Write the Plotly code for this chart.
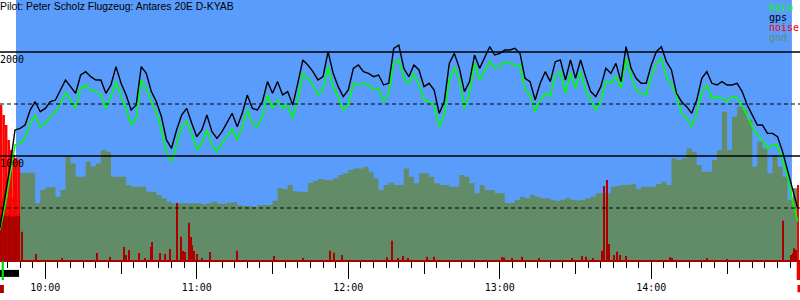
import plotly.graph_objects as go

# ---------------- data ----------------
# fix times: minutes since midnight, one fix every 2 minutes from 09:42
minutes = list(range(582, 900, 2))

gps_alt = [305, 593, 897, 1250, 1266, 1298, 1442, 1522, 1426, 1458, 1522, 1538, 1635, 1731, 1667, 1603,
           1779, 1811, 1763, 1731, 1731, 1603, 1683, 1859, 1699, 1587, 1442, 1490, 1859, 1795, 1619, 1522,
           1378, 1154, 1074, 1250, 1394, 1458, 1314, 1186, 1250, 1394, 1234, 1170, 1234, 1330, 1410, 1282,
           1410, 1587, 1458, 1442, 1522, 1715, 1603, 1715, 1587, 1619, 1490, 1699, 1923, 1875, 1811, 1731,
           1763, 2003, 1795, 1667, 1571, 1635, 1843, 1875, 1811, 1795, 1763, 1779, 1683, 1699, 2035, 2067,
           1843, 1763, 1875, 1827, 1667, 1699, 1635, 1410, 1522, 1891, 1987, 1843, 1619, 1715, 1971, 1843,
           1955, 2051, 1971, 1987, 2019, 2019, 2035, 1987, 1747, 1715, 1538, 1699, 1811, 1715, 1907, 1923,
           1731, 1923, 1747, 1923, 1763, 1619, 1571, 1667, 1843, 1795, 1891, 1715, 2051, 1843, 1747,
           1699, 1699, 1875, 2003, 2051, 1907, 1827, 1603, 1522, 1474, 1410, 1538, 1747, 1811, 1699, 1683,
           1715, 1683, 1683, 1699, 1619, 1490, 1394, 1298, 1298, 1218, 1218, 1186, 1042, 865, 673, 497]

baro_alt = [288, 513, 801, 1106, 1122, 1170, 1314, 1394, 1282, 1314, 1378, 1426, 1506, 1603, 1538, 1458,
            1651, 1683, 1635, 1619, 1587, 1458, 1571, 1715, 1571, 1458, 1298, 1362, 1731, 1651, 1522, 1426,
            1250, 1026, 946, 1122, 1282, 1330, 1218, 1058, 1122, 1250, 1106, 1042, 1122, 1186, 1266, 1154,
            1282, 1442, 1314, 1282, 1378, 1587, 1458, 1538, 1458, 1490, 1362, 1538, 1795, 1747, 1683, 1587,
            1635, 1859, 1667, 1571, 1442, 1490, 1699, 1683, 1699, 1683, 1635, 1651, 1522, 1603, 1891, 1923,
            1747, 1699, 1795, 1683, 1538, 1522, 1490, 1282, 1394, 1731, 1859, 1731, 1458, 1603, 1891, 1731,
            1811, 1907, 1843, 1859, 1907, 1891, 1875, 1875, 1635, 1587, 1426, 1538, 1603, 1571, 1779, 1811,
            1603, 1795, 1651, 1811, 1635, 1538, 1442, 1522, 1715, 1699, 1763, 1651, 1939, 1763, 1635,
            1603, 1587, 1763, 1891, 1939, 1763, 1683, 1587, 1410, 1362, 1282, 1410, 1619, 1683, 1554, 1571,
            1554, 1522, 1571, 1554, 1490, 1378, 1282, 1202, 1154, 1074, 1106, 1106, 962, 801, 561, 369]

gnd_alt = [600, 600, 600, 600, 840, 840, 840, 545, 673, 699, 699, 609, 673, 1000, 929, 801,
           801, 945, 900, 929, 1058, 1040, 801, 801, 800, 721, 705, 705, 705, 657, 657, 625,
           593, 561, 545, 545, 545, 545, 545, 545, 535, 545, 560, 540, 540, 550, 555, 525,
           520, 520, 510, 530, 530, 530, 570, 690, 680, 720, 660, 657, 657, 740, 760, 780,
           769, 769, 785, 817, 833, 865, 881, 881, 897, 849, 785, 673, 721, 743, 721, 721,
           881, 801, 737, 833, 833, 801, 737, 721, 721, 705, 705, 817, 801, 737, 641, 721,
           673, 673, 641, 641, 551, 551, 577, 609, 593, 625, 609, 593, 593, 580, 570, 580,
           593, 580, 575, 580, 593, 609, 641, 641, 641, 705, 712, 721, 721, 731, 680,
           705, 705, 705, 731, 753, 721, 978, 962, 978, 1074, 1042, 913, 849, 849, 962, 1058,
           1426, 1058, 1378, 1474, 1442, 1346, 897, 1138, 1074, 833, 1010, 897, 801, 577, 689, 689]

# noise (sensor units, drawn on the altitude scale)
noise_t = [590.65, 596.3, 606.8, 620.5, 625.6, 631.2, 632.0, 633.0, 637.1, 639.5, 641.9, 642.4, 645.4,
           647.6, 649.4, 652.0, 653.6, 654.5, 655.3, 657.0, 657.6, 658.3, 658.9, 660.1, 662.1, 665.2,
           675.8, 690.6, 702.0, 712.8, 714.3, 717.6, 735.2, 737.4, 739.8, 741.5, 743.8, 751.3, 754.1,
           780.9, 781.7, 784.7, 788.7, 795.6, 808.5, 812.7, 814.1, 817.0, 820.6, 821.4, 822.6, 823.4,
           825.3, 826.5, 827.6, 829.9, 847.4, 848.1, 862.2, 870.1, 892.0, 895.2, 896.0, 896.6, 897.3]
noise_v = [272, 58, 19, 67, 29, 125, 48, 96, 67, 19, 125, 173, 67,
           58, 106, 548, 224, 87, 77, 359, 221, 144, 87, 58, 19, 77,
           90, 38, 16, 90, 70, 48, 26, 186, 16, 38, 10, 32, 32,
           26, 24, 16, 32, 16, 10, 38, 32, 16, 90, 712, 769, 154,
           48, 80, 48, 38, 26, 19, 16, 7, 378, 48, 64, 112, 96]

# engine-run noise (loud part) and its base level
engine_t = [582.5, 583.5, 584.5, 585.5, 586.5, 587.5, 588.5, 589.5, 898.2]
engine_w = [1, 1, 1, 1, 1, 1, 1, 1, 0.5]
engine_v = [1490, 1394, 1298, 1154, 1058, 1010, 981, 962, 721]
engine_base_v = [430, 425, 420, 425, 420, 418, 420, 425]

flight_start, flight_end = 588.4, 895.7
motor_run = (582.06, 589.6)
release_t = (582.7, 583.6)
landing_mark = (897.6, 899.0)

solid_levels = [1000, 2000]
dashed_levels = [500, 1500]
label_levels = [2000, 1000]

hour_ticks = [600, 660, 720, 780, 840]
hour_labels = ["10:00", "11:00", "12:00", "13:00", "14:00"]

x_range = [582.06, 898.9]

title_text = "Pilot: Peter Scholz Flugzeug: Antares 20E D-KYAB"
legend_items = [("baro", "#00ff00"), ("gps", "#000000"), ("noise", "#ff0000"), ("gnd", "#628c68")]

# ---------------- colours ----------------
SKY = "#5a9cfc"
GND = "#628c68"
DARKRED = "#aa0000"
MONO = "DejaVu Sans Mono"

fig = go.Figure()

# ground area on the base x axis (drawn lowest)
fig.add_trace(go.Scatter(x=minutes, y=gnd_alt, mode="lines", line=dict(shape="hv", width=0, color=GND),
                         fill="tozeroy", fillcolor=GND, hoverinfo="skip"))
# noise bars and altitude lines on the overlaying axis (drawn above the ground)
fig.add_trace(go.Bar(x=engine_t, y=engine_v, width=engine_w, xaxis="x2",
                     marker=dict(color="#ff0000", line=dict(width=0))))
fig.add_trace(go.Bar(x=engine_t[:len(engine_base_v)], y=engine_base_v, width=engine_w[:len(engine_base_v)],
                     xaxis="x2", marker=dict(color=DARKRED, line=dict(width=0))))
fig.add_trace(go.Bar(x=noise_t, y=noise_v, width=0.42, xaxis="x2",
                     marker=dict(color=DARKRED, line=dict(width=0))))
fig.add_trace(go.Scatter(x=minutes, y=baro_alt, mode="lines", line=dict(color="#00ff00", width=1.6),
                         xaxis="x2"))
fig.add_trace(go.Scatter(x=minutes, y=gps_alt, mode="lines", line=dict(color="#000000", width=1.4),
                         xaxis="x2"))

shapes = [dict(type="rect", xref="x", yref="paper", x0=flight_start, x1=flight_end, y0=0, y1=1,
               fillcolor=SKY, line=dict(width=0), layer="below")]
for lv in solid_levels:
    shapes.append(dict(type="line", xref="paper", yref="y", x0=0, x1=1, y0=lv, y1=lv,
                       line=dict(color="black", width=1.5), layer="above"))
for lv in dashed_levels:
    shapes.append(dict(type="line", xref="paper", yref="y", x0=0, x1=1, y0=lv, y1=lv,
                       line=dict(color="black", width=1.2, dash="4px,3px"), layer="above"))
# event markers below the time axis
shapes.append(dict(type="rect", xref="x", yref="paper", x0=motor_run[0], x1=motor_run[1], y0=-0.065, y1=-0.038,
                   fillcolor="black", line=dict(width=0)))
shapes.append(dict(type="rect", xref="x", yref="paper", x0=release_t[0], x1=release_t[1], y0=-0.077, y1=-0.006,
                   fillcolor="#00dd00", line=dict(width=0)))
shapes.append(dict(type="rect", xref="x", yref="paper", x0=motor_run[0], x1=release_t[1], y0=-0.127, y1=-0.096,
                   fillcolor=DARKRED, line=dict(width=0)))
shapes.append(dict(type="rect", xref="x", yref="paper", x0=landing_mark[0], x1=landing_mark[1], y0=-0.077, y1=-0.004,
                   fillcolor="#ee0000", line=dict(width=0)))
shapes.append(dict(type="rect", xref="x", yref="paper", x0=landing_mark[0] + 0.3, x1=landing_mark[1], y0=-0.124, y1=-0.096,
                   fillcolor="#ee0000", line=dict(width=0)))

annotations = [dict(text=title_text, xref="paper", yref="paper", x=0, y=(260 - 6.8) / 260, xanchor="left",
                     yanchor="middle", showarrow=False, xshift=-2,
                     font=dict(family="Liberation Sans, Arial", size=10.4, color="black"))]
for lv in label_levels:
    annotations.append(dict(text=str(lv), xref="paper", yref="y", x=0, y=lv, xanchor="left", yanchor="middle",
                            yshift=-7, xshift=-2, showarrow=False, font=dict(family=MONO, size=10, color="black")))
for i, (name, col) in enumerate(legend_items):
    annotations.append(dict(text=name, xref="paper", yref="paper", x=769 / 800, y=(260 - 7.3 - 10 * i) / 260,
                            xanchor="left", yanchor="middle", xshift=-2, showarrow=False,
                            font=dict(family=MONO, size=10, color=col)))

fig.update_layout(
    width=800, height=300,
    margin=dict(l=0, r=0, t=0, b=40),
    paper_bgcolor="white", plot_bgcolor="white",
    showlegend=False, barmode="overlay",
    shapes=shapes, annotations=annotations,
    xaxis=dict(range=x_range, showgrid=False, zeroline=False, showline=True, linecolor=DARKRED, linewidth=2,
               tickmode="linear", tick0=0, dtick=30, ticks="outside", ticklen=12, tickwidth=1, tickcolor="black",
               showticklabels=False,
               minor=dict(ticks="outside", ticklen=6, tick0=0, dtick=5, tickwidth=1, tickcolor="black",
                          showgrid=False)),
    xaxis2=dict(range=x_range, overlaying="x", anchor="y", side="bottom", showgrid=False, zeroline=False,
                showline=False, tickmode="array", tickvals=hour_ticks, ticktext=hour_labels, ticks="outside",
                ticklen=18, tickwidth=1, tickcolor="black", tickfont=dict(family=MONO, size=10, color="black")),
    yaxis=dict(range=[0, 2500], visible=False, showgrid=False, zeroline=False),
)

fig.write_html("out.html")
